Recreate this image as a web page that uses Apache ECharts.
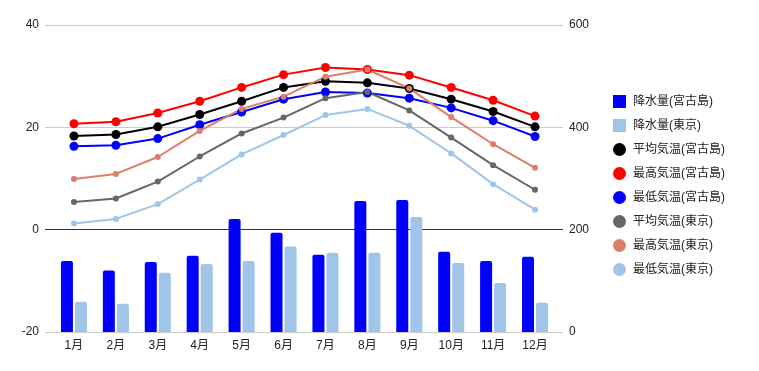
<!DOCTYPE html>
<html><head><meta charset="utf-8">
<script src="https://cdn.jsdelivr.net/npm/echarts@6/dist/echarts.min.js"></script>
<style>html,body{margin:0;padding:0;background:#fff}#c{width:759px;height:371px}</style>
</head><body><div id="c"></div>
<script>
var months = ['1月','2月','3月','4月','5月','6月','7月','8月','9月','10月','11月','12月'];
var rainMiyako = [139, 120, 137, 149, 221, 194, 151, 256, 258, 157, 139, 147];
var rainTokyo = [59, 55, 116, 133, 139, 167, 155, 155, 225, 135, 96, 57];
var avgMiyako = [18.3, 18.6, 20.1, 22.5, 25.1, 27.8, 29.0, 28.7, 27.6, 25.5, 23.1, 20.1];
var maxMiyako = [20.7, 21.1, 22.8, 25.1, 27.8, 30.3, 31.7, 31.3, 30.2, 27.8, 25.3, 22.2];
var minMiyako = [16.3, 16.5, 17.8, 20.5, 23.0, 25.5, 26.9, 26.7, 25.7, 23.8, 21.3, 18.2];
var avgTokyo = [5.4, 6.1, 9.4, 14.3, 18.8, 21.9, 25.7, 26.9, 23.3, 18.0, 12.6, 7.8];
var maxTokyo = [9.9, 10.9, 14.2, 19.3, 23.6, 26.0, 29.9, 31.3, 27.6, 22.0, 16.7, 12.1];
var minTokyo = [1.2, 2.1, 5.0, 9.8, 14.7, 18.5, 22.4, 23.6, 20.3, 14.9, 8.9, 3.9];
var leftTicks = [-20, 40, 20];   // min, max, interval
var rightTicks = [0, 600, 200];

var FONT = '"Liberation Sans", Arial, "Noto Sans CJK JP", sans-serif';
var chart = echarts.init(document.getElementById('c'));
function lineSeries(name, data, color, size) {
  return {
    name: name, type: 'line', xAxisIndex: 1, yAxisIndex: 2, data: data,
    symbol: 'circle', symbolSize: size, color: color,
    lineStyle: { width: 2, color: color }, itemStyle: { color: color },
    emphasis: { disabled: true }, animation: false
  };
}
chart.setOption({
  animation: false,
  textStyle: { fontFamily: FONT },
  grid: [
    { left: 45, right: 196, top: 25, bottom: 39 },
    { left: 53, right: 203, top: 25, bottom: 39 }
  ],
  legend: {
    orient: 'vertical', left: 613, top: 95, padding: 0, itemWidth: 13, itemHeight: 13, itemGap: 11,
    textStyle: { fontSize: 12, color: '#222', fontFamily: FONT, padding: [0, 0, 0, 2] },
    data: [
      { name: '降水量(宮古島)', icon: 'rect' },
      { name: '降水量(東京)', icon: 'rect' },
      { name: '平均気温(宮古島)', icon: 'circle' },
      { name: '最高気温(宮古島)', icon: 'circle' },
      { name: '最低気温(宮古島)', icon: 'circle' },
      { name: '平均気温(東京)', icon: 'circle' },
      { name: '最高気温(東京)', icon: 'circle' },
      { name: '最低気温(東京)', icon: 'circle' }
    ]
  },
  xAxis: [
    { type: 'value', gridIndex: 0, min: 0, max: 1, show: false },
    { type: 'category', gridIndex: 1, data: months, boundaryGap: true,
      axisLine: { show: false }, axisTick: { show: false },
      axisLabel: { color: '#222', fontSize: 12, margin: 8, fontFamily: FONT } }
  ],
  yAxis: [
    { type: 'value', gridIndex: 0, position: 'left', min: leftTicks[0], max: leftTicks[1], interval: leftTicks[2],
      axisLine: { show: false }, axisTick: { show: false },
      axisLabel: { color: '#222', fontSize: 12, margin: 6, fontFamily: FONT },
      splitLine: { show: true, lineStyle: { color: ['#ccc', '#333', '#ccc', '#ccc'], width: 1 } } },
    { type: 'value', gridIndex: 0, position: 'right', min: rightTicks[0], max: rightTicks[1], interval: rightTicks[2],
      axisLine: { show: false }, axisTick: { show: false },
      axisLabel: { color: '#222', fontSize: 12, margin: 6, fontFamily: FONT },
      splitLine: { show: false } },
    { type: 'value', gridIndex: 1, min: leftTicks[0], max: leftTicks[1], interval: leftTicks[2], show: false },
    { type: 'value', gridIndex: 1, min: rightTicks[0], max: rightTicks[1], interval: rightTicks[2], show: false }
  ],
  series: [
    { name: '降水量(宮古島)', type: 'bar', xAxisIndex: 1, yAxisIndex: 3, data: rainMiyako,
      barWidth: 12, barGap: '17%', color: '#0000ff', itemStyle: { color: '#0000ff', borderRadius: [2, 2, 0, 0] } },
    { name: '降水量(東京)', type: 'bar', xAxisIndex: 1, yAxisIndex: 3, data: rainTokyo,
      barWidth: 12, barGap: '17%', color: '#9fc5e8', itemStyle: { color: '#9fc5e8', borderRadius: [2, 2, 0, 0] } },
    lineSeries('平均気温(宮古島)', avgMiyako, '#000000', 9),
    lineSeries('最高気温(宮古島)', maxMiyako, '#ff0000', 9),
    lineSeries('最低気温(宮古島)', minMiyako, '#0000ff', 9),
    lineSeries('平均気温(東京)', avgTokyo, '#666666', 6),
    lineSeries('最高気温(東京)', maxTokyo, '#dd7e6b', 6),
    lineSeries('最低気温(東京)', minTokyo, '#9fc5e8', 6)
  ]
});
</script>
</body></html>
